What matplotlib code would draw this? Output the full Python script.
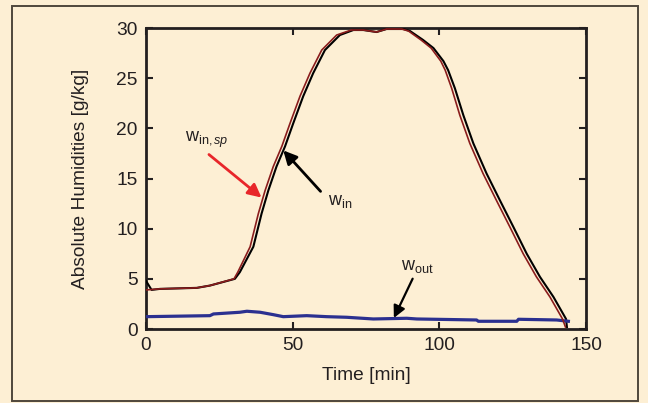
import matplotlib
matplotlib.use("Agg")
import matplotlib.pyplot as plt
from matplotlib.patches import Rectangle

plt.rcParams['font.family'] = ['Liberation Sans', 'DejaVu Sans']
plt.rcParams['mathtext.fontset'] = 'custom'
plt.rcParams['mathtext.rm'] = 'Liberation Sans'
plt.rcParams['mathtext.it'] = 'Liberation Sans:italic'

# Measured inlet humidity w_in
t_in = [0, 1.9, 4.8, 17.3, 21.8, 30.3, 32, 36.6, 39.4, 41.7, 44.5, 47.4, 50.2,
        53.6, 57, 61, 66.1, 70.7, 74.1, 78.6, 82, 87.7, 90, 94.5, 98, 101.4,
        103, 105.3, 108.2, 111.6, 116.1, 120.7, 125.2, 129.8, 134.3, 138.9,
        143.2, 143.5]
w_in = [4.8, 3.9, 4.0, 4.1, 4.33, 5.0, 5.67, 8.2, 11.5, 13.8, 16.2, 18.2, 20.5,
        23.2, 25.5, 27.8, 29.3, 29.8, 29.8, 29.6, 29.9, 29.9, 29.7, 28.8, 28.0,
        26.7, 25.8, 24.0, 21.3, 18.5, 15.5, 12.8, 10.2, 7.5, 5.2, 3.2, 1.0, 0.2]

# Inlet humidity set point w_in,sp
t_sp = [0.2, 4.8, 17.3, 21.8, 30.0, 31.3, 35.5, 38.3, 40.6, 43.4, 46.3, 49.1,
        52.5, 55.9, 59.9, 65.0, 70.0, 74.1, 78.6, 82, 87.2, 89.5, 93.8, 97.2,
        100.5, 102.0, 104.2, 107.0, 110.4, 114.9, 119.5, 124.0, 128.6, 133.1,
        137.7, 142.0, 143.0]
w_sp = [3.9, 4.0, 4.1, 4.33, 5.0, 5.67, 8.2, 11.5, 13.8, 16.2, 18.2, 20.5,
        23.2, 25.5, 27.8, 29.3, 29.8, 29.8, 29.6, 29.9, 29.9, 29.7, 28.8, 28.0,
        26.7, 25.8, 24.0, 21.3, 18.5, 15.5, 12.8, 10.2, 7.5, 5.2, 3.2, 1.0, 0.2]

# Outlet humidity w_out
t_out = [0, 21.8, 23, 32, 34.4, 38.9, 43.4, 46.8, 54.8, 61.6, 68.4, 77.5, 88.9,
         92.3, 112.7, 113.3, 126.4, 127, 140, 144]
w_out = [1.23, 1.33, 1.5, 1.67, 1.77, 1.67, 1.43, 1.23, 1.33, 1.23, 1.17, 1.0,
         1.07, 1.0, 0.9, 0.77, 0.77, 0.97, 0.9, 0.77]

x_ticks = [0, 50, 100, 150]
y_ticks = [0, 5, 10, 15, 20, 25, 30]

bg = '#fdefd4'
fs = 13.8
fig = plt.figure(figsize=(6.48, 4.03), dpi=100)
fig.patch.set_facecolor(bg)
fig.patches.append(Rectangle((0.0185, 0.005), 0.966, 0.980, transform=fig.transFigure,
                             facecolor='none', edgecolor='#4f473b', lw=1.4))

ax = fig.add_axes([0.2253, 0.1836, 0.679, 0.7469])
ax.set_facecolor(bg)
ax.plot(t_in, w_in, color='black', lw=1.5, zorder=3)
ax.plot(t_sp, w_sp, color='#8a1c1c', lw=1.2, zorder=4)
ax.plot(t_out, w_out, color='#2b3090', lw=2.3, zorder=3)

ax.set_xlim(0, 150)
ax.set_ylim(0, 30)
ax.set_xticks(x_ticks)
ax.set_yticks(y_ticks)
ax.tick_params(direction='in', length=5, width=1.5, labelsize=fs,
               top=True, right=True, pad=6, colors='#231f20')
for s in ax.spines.values():
    s.set_linewidth(2)
    s.set_color('#231f20')

ax.set_xlabel('Time [min]', fontsize=fs, color='#231f20', labelpad=9)
ax.set_ylabel('Absolute Humidities [g/kg]', fontsize=fs, color='#231f20', labelpad=20)

ax.annotate(r'w$_{\mathrm{in,}\mathit{sp}}$', xy=(39.4, 13.1), xytext=(13.3, 18.8),
            fontsize=13, color='#231f20', va='center', ha='left',
            arrowprops=dict(arrowstyle='-|>', color='#e8262a', lw=2,
                            mutation_scale=20, shrinkA=0, shrinkB=0,
                            patchA=None, relpos=(0.55, -0.2)))
ax.annotate(r'w$_{\mathrm{in}}$', xy=(46.8, 17.8), xytext=(62, 12.7),
            fontsize=13, color='#231f20', va='center', ha='left',
            arrowprops=dict(arrowstyle='-|>', color='black', lw=2,
                            mutation_scale=20, shrinkA=0, shrinkB=0,
                            relpos=(-0.3, 1.1)))
ax.annotate(r'w$_{\mathrm{out}}$', xy=(84.5, 1.1), xytext=(87, 6.2),
            fontsize=13, color='#231f20', va='center', ha='left',
            arrowprops=dict(arrowstyle='-|>', color='black', lw=1.6,
                            mutation_scale=18, shrinkA=0, shrinkB=0,
                            relpos=(0.35, -0.2)))

fig.savefig('out.png', dpi=100, facecolor=bg)
